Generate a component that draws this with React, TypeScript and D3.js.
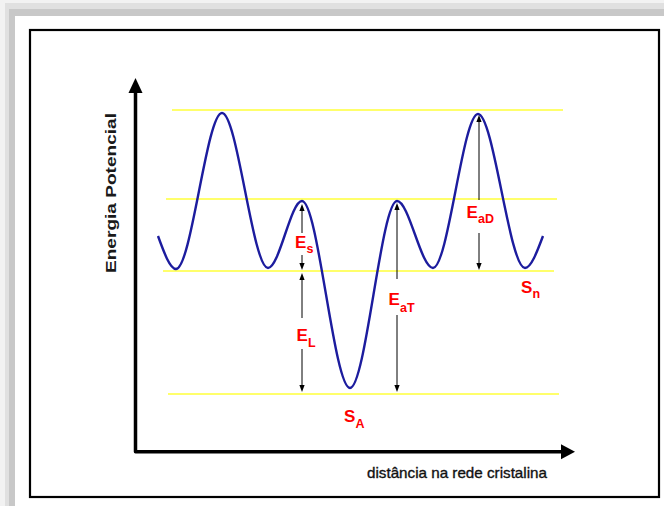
import React from "react";
import * as d3 from "d3";

// ---- data (distance units along x, energy units along y) ----
const curveX = [23, 41, 87, 133, 167, 215, 262, 298, 343, 390, 408];
const curveE = [216, 183, 339, 184, 251, 64, 251, 184, 338, 184, 216];

const levelE = [342, 253, 181, 58];
const levelStart = [37, 31, 28, 33];
const levelEnd = [428, 422, 419, 424];

const arrowNames = ["Es", "EL", "EaT", "EaD"];
const arrowX = [167, 167, 262, 344];
const arrowTop = [248, 179, 249, 337];
const arrowBottom = [182, 60, 60, 182];

const labelMain = ["E", "E", "E", "E", "S", "S"];
const labelSub = ["s", "L", "aT", "aD", "A", "n"];

const yAxisTitle = "Energia Potencial";
const xAxisTitle = "distância na rede cristalina";

// ---- layout ----
const W = 664;
const H = 506;
const xScale = d3.scaleLinear().domain([0, 440]).range([135, 575]);
const yScale = d3.scaleLinear().domain([0, 375]).range([452, 77]);

// gaps in arrows where labels sit (pixels)
const arrowGaps: [number, number][] = [
  [233, 255],
  [318, 349],
  [279, 315],
  [200, 233],
];
// label positions (pixels): main x, main baseline, sub x, sub baseline
const labelPos: [number, number, number, number][] = [
  [295, 248, 306.5, 253],
  [296.5, 340.5, 308, 347],
  [388.5, 305, 400, 311.5],
  [466.5, 218, 478, 223],
  [344, 422, 355.5, 427.5],
  [521, 293, 532.5, 298],
];

const RED = "#ff0000";
const BLUE = "#1c1c9e";
const YELLOW = "#ffff3a";

function vArrowHead(x: number, tipY: number, dir: number, len = 7, hw = 2.6) {
  // dir = -1 points up, +1 points down
  const baseY = tipY - dir * len;
  return `M${x},${tipY}L${x - hw},${baseY}L${x + hw},${baseY}Z`;
}

export default function App() {
  const line = d3
    .line<number>()
    .x((_, i) => xScale(curveX[i]))
    .y((d) => yScale(d))
    .curve(d3.curveMonotoneX);

  const axisX0 = xScale(0) + 0.5;
  const axisY0 = yScale(0) - 0.3;
  const yTip = 78;
  const xTip = 575;

  return (
    <svg
      width={W}
      height={H}
      style={{ position: "absolute", left: 0, top: 0 }}
      fontFamily="'Liberation Sans', Arial, sans-serif"
    >
      {/* frame shadow */}
      <rect x={0} y={0} width={W} height={H} fill="#f2f2f2" />
      <rect x={5} y={3} width={W - 5} height={H - 3} fill="#e0e0e0" />
      <rect x={9} y={9} width={W - 9} height={H - 9} fill="#c8c8c8" />
      <rect x={15} y={16} width={W - 15} height={H - 16} fill="#ffffff" />
      <rect x={30} y={30} width={629} height={467} fill="#ffffff" stroke="#000" strokeWidth={2.2} />

      {/* energy levels */}
      {levelE.map((e, i) => (
        <line
          key={"lvl" + i}
          x1={xScale(levelStart[i])}
          x2={xScale(levelEnd[i])}
          y1={yScale(e)}
          y2={yScale(e)}
          stroke={YELLOW}
          strokeWidth={1.7}
        />
      ))}

      {/* potential curve */}
      <path d={line(curveE) || ""} fill="none" stroke={BLUE} strokeWidth={2.4} />

      {/* energy arrows */}
      {arrowNames.map((n, i) => {
        const x = xScale(arrowX[i]);
        const yT = yScale(arrowTop[i]);
        const yB = yScale(arrowBottom[i]);
        const [g0, g1] = arrowGaps[i];
        return (
          <g key={n}>
            <line x1={x} x2={x} y1={yT + 5} y2={g0} stroke="#000" strokeWidth={1} />
            <line x1={x} x2={x} y1={g1} y2={yB - 5} stroke="#000" strokeWidth={1} />
            <path d={vArrowHead(x, yT, -1)} fill="#000" />
            <path d={vArrowHead(x, yB, 1)} fill="#000" />
          </g>
        );
      })}

      {/* labels */}
      {labelMain.map((m, i) => {
        const [mx, my, sx, sy] = labelPos[i];
        return (
          <text key={"lab" + i} fill={RED} fontWeight="bold" fontSize={17} x={mx} y={my}>
            {m}
            <tspan x={sx} y={sy} fontSize={12.5}>
              {labelSub[i]}
            </tspan>
          </text>
        );
      })}

      {/* axes */}
      <path
        d={`M${axisX0},${yTip + 14}L${axisX0},${axisY0}L${xTip - 13},${axisY0}`}
        fill="none"
        stroke="#000"
        strokeWidth={3.5}
        strokeLinejoin="round"
      />
      <path d={`M${axisX0},${yTip}L${axisX0 - 7},${yTip + 15}L${axisX0 + 7},${yTip + 15}Z`} fill="#000" />
      <path d={`M${xTip},${axisY0}L${xTip - 14},${axisY0 - 7.5}L${xTip - 14},${axisY0 + 7.5}Z`} fill="#000" />

      {/* axis titles */}
      <text
        transform={`translate(116,273) rotate(-90)`}
        fontSize={15.5}
        fontWeight="bold"
        fill="#1a1a1a"
        textLength={160}
        lengthAdjust="spacingAndGlyphs"
      >
        {yAxisTitle}
      </text>
      <text
        x={367}
        y={477.5}
        fontSize={15}
        fill="#111"
        stroke="#111"
        strokeWidth={0.35}
        textLength={180}
        lengthAdjust="spacingAndGlyphs"
      >
        {xAxisTitle}
      </text>
    </svg>
  );
}
